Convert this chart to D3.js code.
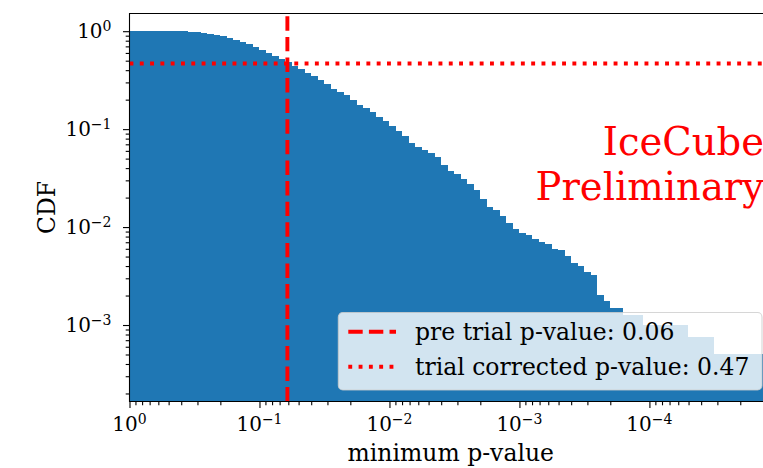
<!DOCTYPE html>
<html>
<head>
<meta charset="utf-8">
<script src="https://cdn.jsdelivr.net/npm/d3@7"></script>
<style>
  body { margin: 0; background: #fff; }
  text { font-family: "DejaVu Serif", serif; fill: #000; }
</style>
</head>
<body>
<div id="chart"></div>
<script>
// Width and height
var w = 763;
var h = 468;

// histogram bins: minimum p-value, 20 log bins per decade starting at p = 1
var binsPerDecade = 20;
// CDF value of each bin
var cdf = [
  1, 1, 1, 1, 1, 1, 1, 1, 1,
  0.977, 0.977, 0.954, 0.932, 0.910, 0.889, 0.848, 0.809, 0.772, 0.737,
  0.687, 0.640, 0.596, 0.556, 0.518, 0.483, 0.439, 0.410, 0.373, 0.345,
  0.316, 0.288, 0.256, 0.238, 0.222, 0.198, 0.176, 0.164, 0.149, 0.1326,
  0.1207, 0.1073, 0.0954, 0.0848, 0.0720, 0.0655, 0.0611, 0.0569, 0.0518, 0.0429,
  0.0373, 0.0347, 0.0309, 0.0275, 0.0238, 0.0193, 0.0160, 0.0149, 0.01295, 0.01098,
  0.00954, 0.00869, 0.00829, 0.00754, 0.00703, 0.00671, 0.00596, 0.00582, 0.00506, 0.00429,
  0.00400, 0.00347, 0.00324, 0.00202, 0.00176, 0.00149, 0.00149, 0.00126, 0.00126, 0.00126,
  0.00100, 0.00100, 0.00100, 0.00100, 0.00100, 0.00100, 0.00100,
  0.00076, 0.00076, 0.00076, 0.00076,
  0.00050, 0.00050, 0.00050, 0.00050, 0.00050, 0.00050, 0.00050, 0.00050, 0.00050
];

// axis ticks and labels
var xMajor = [1, 1e-1, 1e-2, 1e-3, 1e-4];
var xMajorExp = ["0", "\u22121", "\u22122", "\u22123", "\u22124"];
var yMajor = [1, 1e-1, 1e-2, 1e-3];
var yMajorExp = ["0", "\u22121", "\u22122", "\u22123"];

// reference lines
var preTrialP = 0.061;
var trialCorrectedP = 0.468;
var legendLabels = [
  "pre trial p-value: " + preTrialP.toFixed(2),
  "trial corrected p-value: " + trialCorrectedP.toFixed(2)
];
var watermark = ["IceCube", "Preliminary"];

var blue = "#1f77b4";
var red = "#ff0000";

// plot area (right side runs past the window, like the original)
var pLeft = 129.5, pRight = 772, pTop = 13.5, pBottom = 401.5;

var x = d3.scaleLog().domain([1, 1.14e-5]).range([pLeft, pRight]);
var y = d3.scaleLog().domain([1.656e-4, 1.516]).range([pBottom, pTop]);

var svg = d3.select("#chart")
  .append("svg")
  .attr("width", w)
  .attr("height", h);

// bars (snapped to whole pixels so neighbours do not leave seams)
var edges = d3.range(cdf.length + 1).map(function(k){ return Math.pow(10, -k / binsPerDecade); });
svg.append("g")
  .attr("shape-rendering", "crispEdges")
  .selectAll("rect")
  .data(cdf)
  .enter()
  .append("rect")
  .attr("x", function(d, i){ return Math.round(x(edges[i])); })
  .attr("width", function(d, i){ return Math.round(x(edges[i + 1])) - Math.round(x(edges[i])); })
  .attr("y", function(d){ return Math.round(y(d)); })
  .attr("height", function(d){ return Math.round(pBottom) - Math.round(y(d)); })
  .attr("fill", blue);

// pre trial p-value (dashed, drawn bottom to top) and trial corrected (dotted)
var lw = 3.9;
svg.append("line")
  .attr("x1", x(preTrialP)).attr("x2", x(preTrialP))
  .attr("y1", pBottom).attr("y2", pTop)
  .attr("stroke", red).attr("stroke-width", lw)
  .attr("stroke-dasharray", "14.4,6.2");
svg.append("line")
  .attr("x1", pLeft).attr("x2", pRight)
  .attr("y1", y(trialCorrectedP)).attr("y2", y(trialCorrectedP))
  .attr("stroke", red).attr("stroke-width", lw)
  .attr("stroke-dasharray", "3.9,6.4");

// ticks
function isMajor(d){ return Math.abs(Math.log10(d) - Math.round(Math.log10(d))) < 1e-9; }
var xMinor = x.ticks().filter(function(d){ return !isMajor(d); });
var yMinor = y.ticks().filter(function(d){ return !isMajor(d); });

var gx = svg.append("g").attr("transform", "translate(0," + pBottom + ")");
gx.call(d3.axisBottom(x).tickValues(xMajor).tickSize(6.5).tickFormat(""));
gx.select(".domain").remove();
var gxm = svg.append("g").attr("transform", "translate(0," + pBottom + ")");
gxm.call(d3.axisBottom(x).tickValues(xMinor).tickSize(3.8).tickFormat(""));
gxm.select(".domain").remove();

var gy = svg.append("g").attr("transform", "translate(" + pLeft + ",0)");
gy.call(d3.axisLeft(y).tickValues(yMajor).tickSize(6.5).tickFormat(""));
gy.select(".domain").remove();
var gym = svg.append("g").attr("transform", "translate(" + pLeft + ",0)");
gym.call(d3.axisLeft(y).tickValues(yMinor).tickSize(3.8).tickFormat(""));
gym.select(".domain").remove();

svg.selectAll(".tick line").attr("stroke", "#000").attr("stroke-width", 1.1);

// tick labels as 10 with superscript
var tickFont = 20;
xMajor.forEach(function(d, i){
  var t = svg.append("text")
    .attr("x", x(d)).attr("y", 431)
    .attr("text-anchor", "middle")
    .style("font-size", tickFont + "px");
  t.append("tspan").text("10");
  t.append("tspan").attr("dy", -7).style("font-size", (tickFont * 0.7) + "px").text(xMajorExp[i]);
});
yMajor.forEach(function(d, i){
  var t = svg.append("text")
    .attr("x", 111.5).attr("y", y(d) + 7.3)
    .attr("text-anchor", "end")
    .style("font-size", tickFont + "px");
  t.append("tspan").text("10");
  t.append("tspan").attr("dy", -7).style("font-size", (tickFont * 0.7) + "px").text(yMajorExp[i]);
});

// spines
svg.append("path")
  .attr("d", "M" + pRight + "," + pTop + "H" + pLeft + "V" + pBottom + "H" + pRight)
  .attr("fill", "none").attr("stroke", "#000").attr("stroke-width", 1.1);

// axis labels
svg.append("text")
  .attr("x", (pLeft + pRight) / 2).attr("y", 460.7)
  .attr("text-anchor", "middle")
  .style("font-size", "23.5px")
  .text("minimum p-value");
svg.append("text")
  .attr("transform", "translate(55," + ((pTop + pBottom) / 2) + ") rotate(-90)")
  .attr("text-anchor", "middle")
  .style("font-size", "23.5px")
  .text("CDF");

// watermark
svg.append("g").selectAll("text")
  .data(watermark)
  .enter()
  .append("text")
  .attr("x", 764)
  .attr("y", function(d, i){ return 155 + i * 45; })
  .attr("text-anchor", "end")
  .style("font-size", "38.5px")
  .style("fill", red)
  .text(function(d){ return d; });

// legend
var legFont = 23.5;
var leg = svg.append("g");
var legBox = leg.append("rect")
  .attr("x", 338.3).attr("y", 312.5)
  .attr("height", 77.5)
  .attr("rx", 4.5).attr("ry", 4.5)
  .attr("fill", "#fff").attr("fill-opacity", 0.8)
  .attr("stroke", "#cccccc").attr("stroke-opacity", 0.8).attr("stroke-width", 1.1);
var legRows = [331.7, 366.7];
var legDash = ["14.4,6.2", "3.9,6.4"];
var maxLen = 0;
legendLabels.forEach(function(lab, i){
  leg.append("line")
    .attr("x1", 348.3).attr("x2", 396)
    .attr("y1", legRows[i]).attr("y2", legRows[i])
    .attr("stroke", red).attr("stroke-width", lw)
    .attr("stroke-dasharray", legDash[i]);
  var t = leg.append("text")
    .attr("x", 415).attr("y", legRows[i] + 8.3)
    .style("font-size", legFont + "px")
    .text(lab);
  maxLen = Math.max(maxLen, t.node().getComputedTextLength());
});
legBox.attr("width", 762 - 338.3);
</script>
</body>
</html>
